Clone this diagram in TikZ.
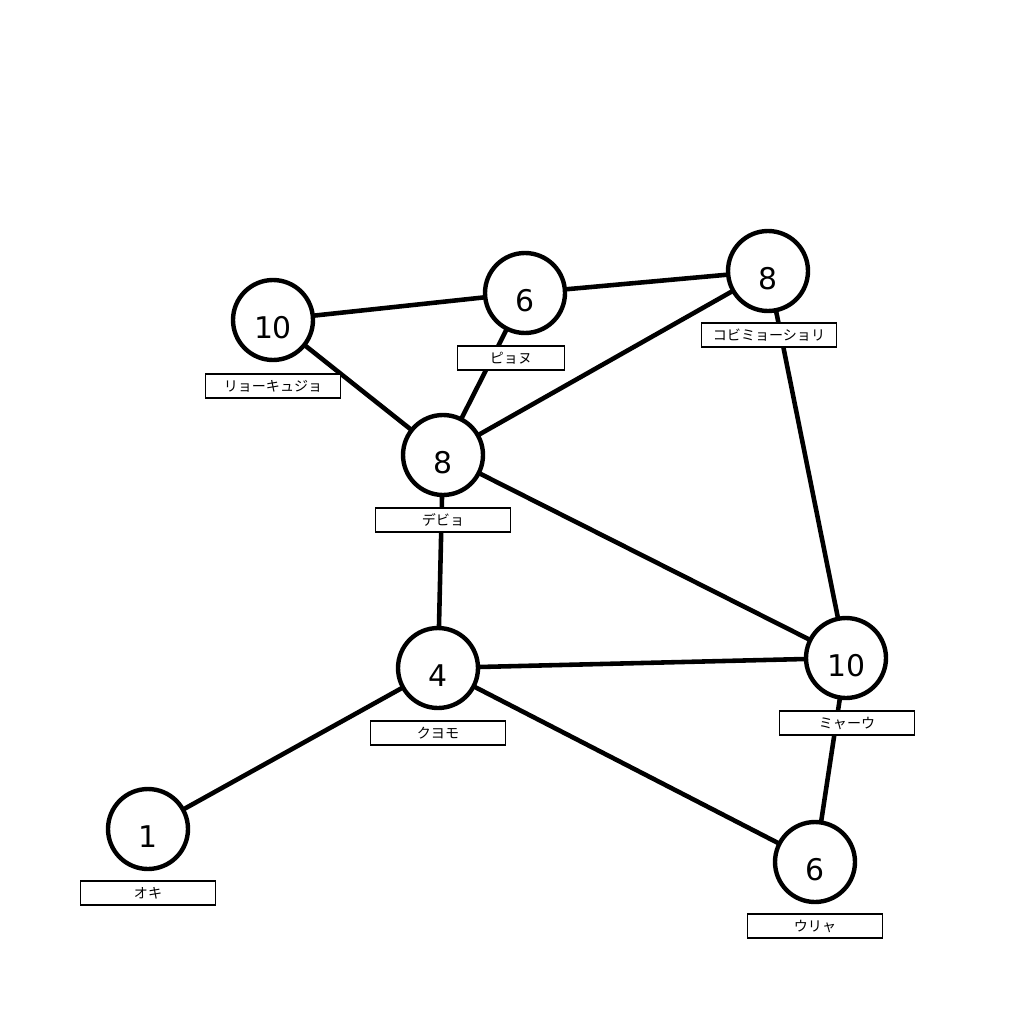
\documentclass[tikz,border=0pt]{standalone}
\usepackage{fontspec}
\setmainfont{DejaVu Sans}
\newfontfamily\jpfont{Noto Sans CJK JP}

\begin{document}
\begin{tikzpicture}[x=0.02cm, y=-0.02cm]
%define
\tikzstyle{vertex} = [circle, minimum size=1.6cm, inner sep=0pt, draw=black, line width=2.5pt, fill=white]
\tikzstyle{num} = [font=\fontsize{17}{20}\selectfont, yshift=-0.16cm]
\tikzstyle{tag} = [rectangle, minimum width=2.7cm, minimum height=0.48cm, inner sep=0pt, draw=black, line width=0.8pt, fill=white, font=\jpfont\fontsize{8}{9}\selectfont]
\tikzstyle{edge} = [line width=2.6pt]

\useasboundingbox (0,0) rectangle (1024,1024);

\coordinate(v_A) at (273,320);
\coordinate(v_B) at (525,293);
\coordinate(v_C) at (768,271);
\coordinate(v_D) at (443,455);
\coordinate(v_E) at (438,668);
\coordinate(v_F) at (846,658);
\coordinate(v_G) at (148,829);
\coordinate(v_H) at (815,862);

\draw[edge](v_A) -- (v_B);
\draw[edge](v_B) -- (v_C);
\draw[edge](v_A) -- (v_D);
\draw[edge](v_B) -- (v_D);
\draw[edge](v_C) -- (v_D);
\draw[edge](v_C) -- (v_F);
\draw[edge](v_D) -- (v_F);
\draw[edge](v_D) -- (v_E);
\draw[edge](v_E) -- (v_F);
\draw[edge](v_E) -- (v_G);
\draw[edge](v_E) -- (v_H);
\draw[edge](v_F) -- (v_H);

% circles over the edges
\foreach \v/\t in {A/10,B/6,C/8,D/8,E/4,F/10,G/1,H/6}{
  \node[vertex](c_\v) at (v_\v) {};
  \node[num] at (c_\v) {\t};
}

\node[tag](tag_A) at (273,386){リョーキュジョ};
\node[tag, minimum width=2.14cm](tag_B) at (511,358){ピョヌ};
\node[tag](tag_C) at (769,335){コビミョーショリ};
\node[tag](tag_D) at (443,520){デビョ};
\node[tag](tag_E) at (438,733){クヨモ};
\node[tag](tag_F) at (847,723){ミャーウ};
\node[tag](tag_G) at (148,893){オキ};
\node[tag](tag_H) at (815,926){ウリャ};

\end{tikzpicture}
\end{document}
